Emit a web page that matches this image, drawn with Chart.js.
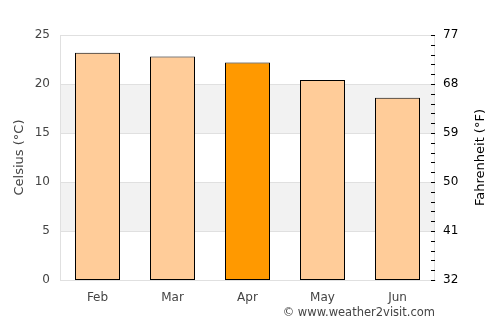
<!DOCTYPE html>
<html><head><meta charset="utf-8">
<script src="https://cdn.jsdelivr.net/npm/chart.js@4/dist/chart.umd.min.js"></script>
<style>html,body{margin:0;padding:0;background:#fff}#wrap{width:500px;height:325px}</style>
</head><body><div id="wrap"><canvas id="c" width="500" height="325"></canvas></div>
<script>
const months = ["Feb","Mar","Apr","May","Jun"];
const celsius = [23.2, 22.8, 22.2, 20.4, 18.6];
const highlightIndex = 2;
const fahrenheitTicks = [32,41,50,59,68,77];
const bands = [[5,10],[15,20]];

const FONT = "'DejaVu Sans', sans-serif";
const TXT = "#444";

const bgPlugin = {
  id: 'bg',
  beforeDatasetsDraw(chart) {
    const {ctx, chartArea: a, scales: {y}} = chart;
    ctx.save();
    ctx.fillStyle = '#f2f2f2';
    bands.forEach(([lo, hi]) => {
      const t = y.getPixelForValue(hi), b = y.getPixelForValue(lo);
      ctx.fillRect(a.left, t, a.right - a.left, b - t);
    });
    ctx.strokeStyle = '#e0e0e0';
    ctx.lineWidth = 1;
    for (let v = 0; v <= 25; v += 5) {
      const p = Math.round(y.getPixelForValue(v)) + 0.5;
      ctx.beginPath(); ctx.moveTo(a.left, p); ctx.lineTo(a.right, p); ctx.stroke();
    }
    ctx.beginPath();
    ctx.moveTo(Math.round(a.left) + 0.5, a.top); ctx.lineTo(Math.round(a.left) + 0.5, a.bottom);
    ctx.moveTo(Math.round(a.right) - 0.5, a.top); ctx.lineTo(Math.round(a.right) - 0.5, a.bottom);
    ctx.stroke();
    ctx.restore();
  },
  afterDatasetsDraw(chart) {
    const {ctx, chartArea: a, scales: {y}} = chart;
    ctx.save();
    ctx.strokeStyle = '#000';
    ctx.lineWidth = 1;
    for (let v = 0; v <= 25; v += 1) {
      const p = Math.round(y.getPixelForValue(v)) + 0.5;
      ctx.beginPath(); ctx.moveTo(a.right - 4, p); ctx.lineTo(a.right, p); ctx.stroke();
    }
    ctx.fillStyle = TXT;
    ctx.font = "11.5px " + FONT;
    ctx.textAlign = 'right';
    ctx.textBaseline = 'middle';
    ctx.fillText("© www.weather2visit.com", a.right, 313);
    // right axis title, rotated to read bottom-to-top
    ctx.fillStyle = '#000';
    ctx.font = "13px " + FONT;
    ctx.textAlign = 'center';
    ctx.translate(481, (a.top + a.bottom) / 2);
    ctx.rotate(-Math.PI / 2);
    ctx.fillText("Fahrenheit (°F)", 0, 0);
    ctx.restore();
  }
};

new Chart(document.getElementById('c'), {
  type: 'bar',
  data: {
    labels: months,
    datasets: [{
      data: celsius,
      backgroundColor: celsius.map((_, i) => i === highlightIndex ? '#ff9900' : '#ffcc99'),
      borderColor: '#000',
      borderWidth: 1,
      borderSkipped: false,
      categoryPercentage: 0.6,
      barPercentage: 1.0,
      yAxisID: 'y'
    }]
  },
  options: {
    responsive: false,
    animation: false,
    layout: { padding: { top: 35, left: 0, right: 0, bottom: 0 } },
    plugins: { legend: { display: false }, tooltip: { enabled: false } },
    scales: {
      x: {
        grid: { display: false, drawTicks: false },
        border: { display: true, color: '#e0e0e0' },
        ticks: { color: TXT, font: { family: FONT, size: 12 }, padding: 11 },
        afterFit(s) { s.height = 45; }
      },
      y: {
        position: 'left',
        min: 0, max: 25,
        ticks: { stepSize: 5, color: TXT, font: { family: FONT, size: 12 }, padding: 10 },
        grid: { display: false, drawTicks: false },
        border: { display: false },
        title: { display: true, text: 'Celsius (°C)', color: TXT, font: { family: FONT, size: 13 }, padding: { top: 12, bottom: 0 } },
        afterFit(s) { s.width = 60; }
      },
      y2: {
        position: 'right',
        min: 32, max: 77,
        afterBuildTicks(s) { s.ticks = fahrenheitTicks.map(v => ({ value: v })); },
        ticks: { color: '#000', font: { family: FONT, size: 12 }, padding: 8 },
        grid: { display: false, drawTicks: false },
        border: { display: false },
        afterFit(s) { s.width = 65; }
      }
    }
  },
  plugins: [bgPlugin]
});
</script></body></html>
